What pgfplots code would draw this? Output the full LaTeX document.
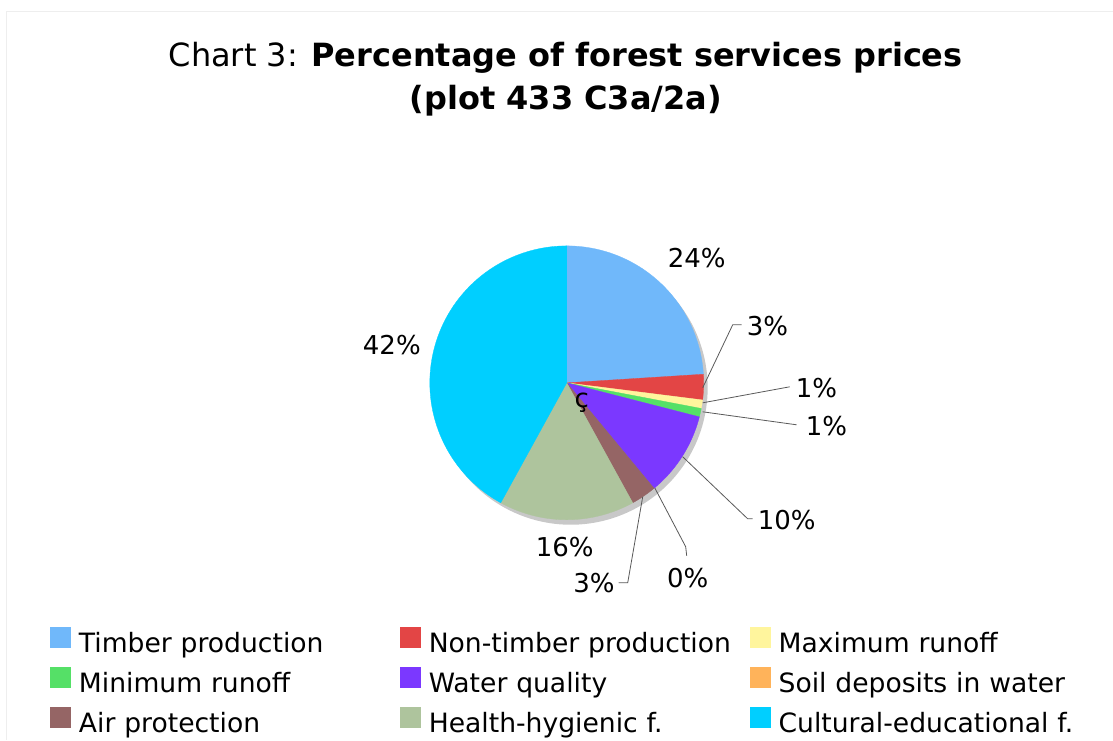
\documentclass[border=0pt]{standalone}
\usepackage{pgfplots}
\usepackage{pgfplotstable}
\pgfplotsset{compat=1.18}
\usepackage{fontspec}
\setmainfont{DejaVu Sans}

\definecolor{c0}{HTML}{70B8FA}
\definecolor{c1}{HTML}{E34545}
\definecolor{c2}{HTML}{FFF59D}
\definecolor{c3}{HTML}{55E067}
\definecolor{c4}{HTML}{7B38FF}
\definecolor{c5}{HTML}{FFB35A}
\definecolor{c6}{HTML}{956565}
\definecolor{c7}{HTML}{AEC49D}
\definecolor{c8}{HTML}{00CFFF}
\definecolor{shadowgray}{HTML}{C8C8C8}
\definecolor{framegray}{HTML}{EEEEEE}

\pgfplotstableread{
label value
Timber 24
NonTimber 3
MaxRunoff 1
MinRunoff 1
WaterQuality 10
SoilDeposits 0
AirProtection 3
HealthHygienic 16
CulturalEducational 42
}\piedata

\begin{document}
\begin{tikzpicture}
\begin{axis}[
  width=1113pt, height=740pt, scale only axis,
  xmin=0, xmax=1113, ymin=0, ymax=740,
  hide axis, clip=false,
  legend image code/.code={\fill[#1, draw=none] (0pt,-2pt) rectangle (21pt,19pt); \path[draw=none, fill=none] (0pt,0pt) -- (29pt,0pt);},
  legend columns=3,
  legend cell align=left,
  legend style={at={(axis cs:50,113)}, anchor=north west, draw=none, fill=none,
    inner sep=0pt, outer sep=0pt,
    font=\fontsize{26.6}{31}\selectfont,
    nodes={inner sep=0pt, text width=321pt, align=left, text height=19pt, text depth=5pt},
    row sep=9pt},
]
% frame and extent
\addplot[draw=framegray, line width=1pt, forget plot] coordinates {(7,0) (7,728) (1113,728)};
\addplot[draw=none, forget plot] coordinates {(0,0) (1113,740)};
% shadow
\addplot[fill=shadowgray, draw=none, domain=0:360, samples=180, forget plot]
  ({571+137*cos(x)},{352+137*sin(x)}) -- cycle;
% slices
\def\cum{0}
\pgfplotsforeachungrouped \i in {0,...,8}{%
  \pgfplotstablegetelem{\i}{value}\of\piedata
  \let\v\pgfplotsretval
  \pgfmathsetmacro{\aEnd}{90-3.6*\cum}
  \pgfmathsetmacro{\newcum}{\cum+\v}
  \pgfmathsetmacro{\aStart}{90-3.6*\newcum}
  \global\let\cum\newcum
  \ifdim\v pt>0pt
    \edef\temp{\noexpand\addplot[fill=c\i, draw=c\i, line width=0.3pt, domain=\aStart:\aEnd, samples=90, forget plot]
      ({567+137*cos(x)},{357+137*sin(x)}) -- (axis cs:567,357) -- cycle;}%
    \temp
  \fi
}
% legend
\addlegendimage{fill=c0}\addlegendentry{Timber production}
\addlegendimage{fill=c1}\addlegendentry{Non-timber production}
\addlegendimage{fill=c2}\addlegendentry{Maximum runoff}
\addlegendimage{fill=c3}\addlegendentry{Minimum runoff}
\addlegendimage{fill=c4}\addlegendentry{Water quality}
\addlegendimage{fill=c5}\addlegendentry{Soil deposits in water}
\addlegendimage{fill=c6}\addlegendentry{Air protection}
\addlegendimage{fill=c7}\addlegendentry{Health-hygienic f.}
\addlegendimage{fill=c8}\addlegendentry{Cultural-educational f.}
% leader lines
\addplot[black!65, line width=0.8pt, forget plot] coordinates {(703,352) (733,415) (742,415)};
\addplot[black!65, line width=0.8pt, forget plot] coordinates {(703,337) (790,353)};
\addplot[black!65, line width=0.8pt, forget plot] coordinates {(703,328) (797,315)};
\addplot[black!65, line width=0.8pt, forget plot] coordinates {(683,283) (748,221) (753,221)};
\addplot[black!65, line width=0.8pt, forget plot] coordinates {(655,252) (686,193) (687,184)};
\addplot[black!65, line width=0.8pt, forget plot] coordinates {(643,243) (628,157) (619,157)};
% labels
\begin{scope}[every node/.style={font=\fontsize{26}{31}\selectfont, inner sep=0pt}]
\node at (axis cs:697,482) {24\%};
\node[anchor=west] at (axis cs:747,414) {3\%};
\node[anchor=west] at (axis cs:796,352) {1\%};
\node[anchor=west] at (axis cs:806,314) {1\%};
\node[anchor=west] at (axis cs:758,220) {10\%};
\node at (axis cs:688,162) {0\%};
\node[anchor=east] at (axis cs:615,157) {3\%};
\node at (axis cs:565,193) {16\%};
\node at (axis cs:392,395) {42\%};
\node at (axis cs:582,337) {ç};
\end{scope}
% title
\node[font=\fontsize{32}{38}\selectfont, inner sep=0pt] at (axis cs:566,682) {Chart 3: \textbf{Percentage of forest services prices}};
\node[font=\fontsize{32}{38}\selectfont, inner sep=0pt] at (axis cs:566,639) {\textbf{(plot 433 C3a/2a)}};
\end{axis}
\end{tikzpicture}
\end{document}
